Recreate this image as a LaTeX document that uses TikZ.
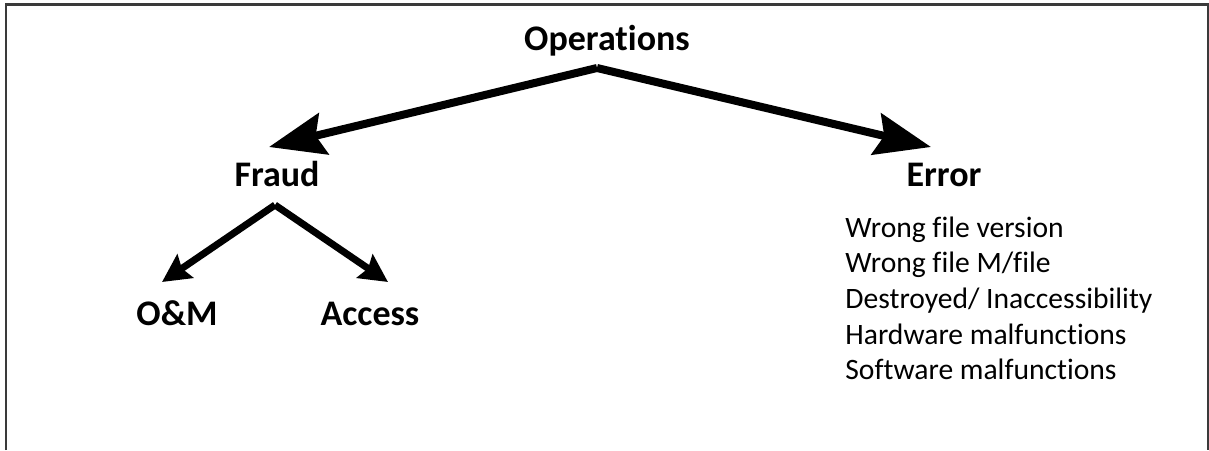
\documentclass[tikz,border=0pt]{standalone}
\usepackage{fontspec}
\setmainfont{Carlito}[Ligatures=NoCommon]
\usetikzlibrary{arrows.meta}
\definecolor{framegray}{HTML}{3A3A3A}
\tikzset{
  head/.style={font=\bfseries\fontsize{18}{21}\selectfont,anchor=base,inner sep=0pt},
  item/.style={font=\fontsize{14.8}{18}\selectfont,anchor=base west,inner sep=0pt},
  branch/.style={line width=4pt,-{Stealth[length=28pt,width=21pt,inset=4pt]}},
  twig/.style={line width=3.5pt,-{Stealth[length=14pt,width=14pt,inset=2pt]}},
  frame/.style={draw=framegray,line width=1.2pt}
}

\begin{document}
\begin{tikzpicture}[x=0.5pt,y=-0.5pt]
  \useasboundingbox (0,0) rectangle (1209,450);
  \draw[frame] (6,450) -- (6,4.5) -- (1208,4.5) -- (1208,450);
  % labels
  \node[head] (ops) at (607,50) {Operations};
  \node[head] (fraud) at (277,186) {Fraud};
  \node[head] (error) at (944,186) {Error};
  \node[head] (om) at (177,325) {O\&M};
  \node[head] (access) at (370,325) {Access};
  \foreach \txt [count=\i from 0] in {Wrong file version,Wrong file M/file,
      Destroyed/ Inaccessibility,Hardware malfunctions,Software malfunctions}
    \node[item] (err\i) at (845,237+35.7*\i) {\txt};
  % forks
  \coordinate (opsfork) at ([shift={(-5pt,-9pt)}]ops.base);
  \coordinate (fraudfork) at ([shift={(-1pt,-9.5pt)}]fraud.base);
  \draw[branch] (opsfork) -- ([shift={(-4pt,19.5pt)}]fraud.base);
  \draw[branch] (opsfork) -- ([shift={(-6.5pt,19.5pt)}]error.base);
  \draw[twig] (fraudfork) -- ([shift={(-7.5pt,21.5pt)}]om.base);
  \draw[twig] (fraudfork) -- ([shift={(9pt,21.5pt)}]access.base);
\end{tikzpicture}
\end{document}
